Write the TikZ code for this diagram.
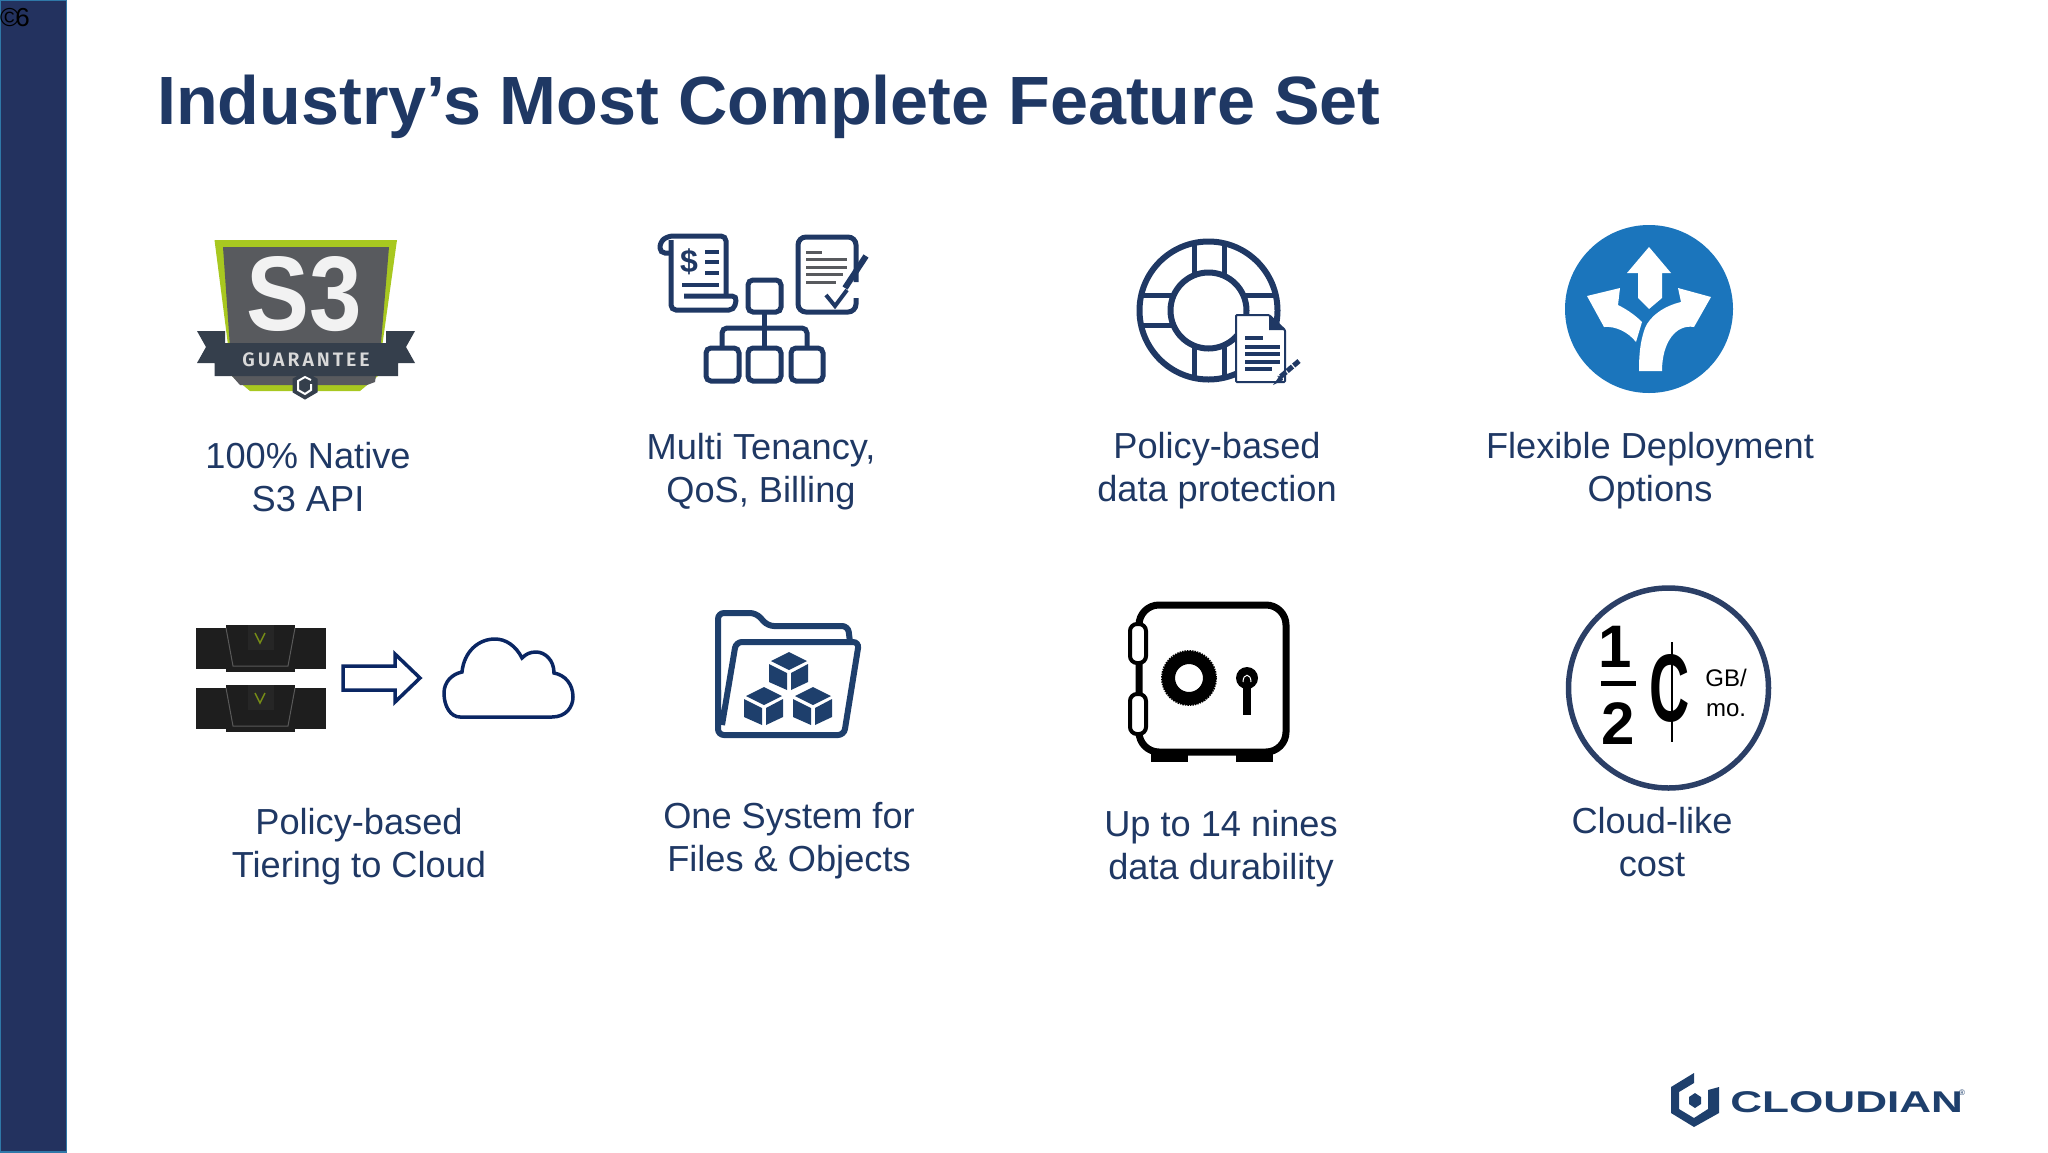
\documentclass[tikz,border=0pt]{standalone}
\usepackage{fontspec}
\setmainfont{Liberation Sans}
\newfontfamily\badgefont[LetterSpace=15]{Fira Sans SemiBold}
\definecolor{navy}{HTML}{1F3864}
\definecolor{barblue}{HTML}{23325F}
\definecolor{baredge}{HTML}{2F78A8}
\definecolor{lime}{HTML}{A8C820}
\definecolor{slate}{HTML}{585A5E}
\definecolor{ribbon}{HTML}{353F4C}
\definecolor{iconblue}{HTML}{1B75BC}
\definecolor{arrownavy}{HTML}{0A2663}
\definecolor{dkgray}{HTML}{1E1E1E}
\definecolor{ringnavy}{HTML}{2B3F66}
\definecolor{logonavy}{HTML}{1E3F6C}
\begin{document}
\begin{tikzpicture}[x=1pt,y=-1pt,
lbl/.style={text=navy, align=center, font=\fontsize{36.2}{43}\selectfont, inner sep=0},
iconline/.style={draw=navy, line width=5, rounded corners=5},
thinline/.style={draw=navy, line width=4},
servertop/.style={fill=dkgray, draw=none}]
\useasboundingbox (0,0) rectangle (2048,1152);
\draw[fill=barblue, draw=baredge, line width=1.5] (0,0) rectangle (66.5,1152);
\node[text=black, inner sep=0, anchor=west, font=\fontsize{26}{26}\selectfont] (pagenum) at (0,18) {©\kern-4pt 6};
\node[text=navy, inner sep=0, anchor=base west, font=\fontsize{68.3}{68}\selectfont\bfseries] (title) at (157,124) {Industry’s Most Complete Feature Set};
% s3 badge
\fill[lime] (214.5,240) -- (397,240) -- (378,376) -- (360,391) -- (250,391) -- (232,376) -- cycle;
\fill[slate] (223,247) -- (389,247) -- (381,343) -- (375,382) -- (367,385) -- (240,385) -- (232,376) -- cycle;
\fill[ribbon] (197,331) -- (225,331) -- (225,343) -- (386,343) -- (386,331) -- (415,331) -- (406,347) -- (415,363) -- (398,363) -- (398,376) -- (214.5,376) -- (214.5,363) -- (197,363) -- (206,347) -- cycle;
\node[text=white!95!black, inner sep=0, xscale=.89, font=\fontsize{106}{106}\selectfont\bfseries] (sthree) at (304,294) {S3};
\node[text=white!85!black, inner sep=0, font=\fontsize{19.5}{19.5}\selectfont\badgefont] (guarantee) at (306,360) {GUARANTEE};
\draw[fill=ribbon, draw=ribbon, line width=1] (305,372) -- (317,379) -- (317,392) -- (305,399) -- (293,392) -- (293,379) -- cycle;
\draw[draw=white, line width=2] (311,380) -- (305,377) -- (298,381) -- (298,390) -- (305,394) -- (311,390) -- (311,384);
% billing
\draw[iconline] (726,296) -- (726,236) -- (668,236) -- (660,242) -- (660,253) -- (671,253);
\draw[iconline] (671,240) -- (671,310) -- (728,310);
\draw[iconline] (684,296) -- (737,296) -- (734,310) -- (728,310);
\node[text=navy, inner sep=0, font=\fontsize{32}{32}\selectfont\bfseries] (dollar) at (689,262) {\$};
\draw[thinline] (705,252) -- (719,252);
\draw[thinline] (705,262) -- (719,262);
\draw[thinline] (705,273) -- (719,273);
\draw[thinline] (682,285) -- (719,285);
\draw[iconline, rounded corners=8] (856,282) -- (856,237) -- (798,237) -- (798,312) -- (856,312) -- (856,298);
\draw[draw=slate, line width=3] (806,252) -- (822,252);
\draw[draw=slate, line width=3] (806,259) -- (847,259);
\draw[draw=slate, line width=3] (806,267) -- (847,267);
\draw[draw=slate, line width=3] (806,274) -- (843,274);
\draw[draw=slate, line width=3] (806,282) -- (836,282);
\draw[draw=navy, line width=6] (866,256) -- (845,288);
\draw[draw=navy, line width=4] (826,295) -- (835,306) -- (847,290);
\draw[iconline] (748,280) rectangle (781,312);
\draw[iconline] (706,348) rectangle (739,381);
\draw[iconline] (748,348) rectangle (781,381);
\draw[iconline] (791,348) rectangle (823,381);
\draw[iconline] (764.5,312) -- (764.5,348);
\draw[iconline] (722,348) -- (722,328) -- (807,328) -- (807,348);
% lifebuoy
\draw[draw=navy, line width=6] (1208.5,310.5) circle (69);
\draw[draw=navy, line width=6] (1208.5,310.5) circle (38);
\draw[thinline, line width=5] (1194,243) -- (1194,275);
\draw[thinline, line width=5] (1224,243) -- (1224,275);
\draw[thinline, line width=5] (1194,346) -- (1194,378);
\draw[thinline, line width=5] (1224,346) -- (1224,378);
\draw[thinline, line width=5] (1141,295) -- (1172,295);
\draw[thinline, line width=5] (1141,325) -- (1172,325);
\draw[thinline, line width=5] (1245,295) -- (1276,295);
\draw[fill=white, draw=navy, line width=2, rounded corners=1] (1236,315) -- (1269,315) -- (1285,330) -- (1285,382) -- (1236,382) -- cycle;
\fill[navy] (1269,315) -- (1285,330) -- (1269,330) -- cycle;
\draw[thinline] (1245,338) -- (1263,338);
\draw[thinline] (1245,347) -- (1280,347);
\draw[thinline] (1245,354) -- (1280,354);
\draw[thinline] (1245,362) -- (1280,362);
\draw[thinline] (1245,369) -- (1272,369);
\draw[draw=navy, line width=5, dash pattern=on 7 off 1.5] (1299,361) -- (1279,378);
\fill[navy] (1281,374) -- (1283,380) -- (1273,385) -- cycle;
% directions
\fill[iconblue] (1649,309) circle (84);
\fill[white] (1649,247) -- (1671,273) -- (1662,273) -- (1662,298) -- (1649,309) -- (1638,298) -- (1638,273) -- (1627,273) -- cycle;
\fill[white] (1587,296) -- (1620,288) -- (1618,305) .. controls (1628,310) and (1636,316) .. (1642,322) -- (1636,342) .. controls (1628,332) and (1616,326) .. (1604,327) -- cycle;
\fill[white] (1711,297) -- (1678,288) -- (1681,302) .. controls (1664,306) and (1650,316) .. (1645,328) .. controls (1640,342) and (1639,355) .. (1639,371) -- (1662,371) .. controls (1662,342) and (1676,324) .. (1694,327) -- cycle;
% tiering
\fill[servertop] (196,628) rectangle (326,669);
\fill[servertop] (226,625) rectangle (295,672);
\draw[draw=gray!70!black, line width=1] (226,628) -- (233,666) -- (288,666) -- (295,628);
\fill[black!85] (248,625) rectangle (274,650);
\draw[draw=lime!70!black, line width=1.5] (255,633) -- (260,643) -- (265,633);
\fill[servertop] (196,688) rectangle (326,729);
\fill[servertop] (226,685) rectangle (295,732);
\draw[draw=gray!70!black, line width=1] (226,688) -- (233,726) -- (288,726) -- (295,688);
\fill[black!85] (248,685) rectangle (274,710);
\draw[draw=lime!70!black, line width=1.5] (255,693) -- (260,703) -- (265,693);
\draw[draw=arrownavy, line width=3.5, fill=white] (343,666) -- (395,666) -- (395,654) -- (420,678) -- (395,702) -- (395,690) -- (343,690) -- cycle;
\draw[draw=arrownavy, line width=3.5, fill=white] (460,717) -- (552,717) .. controls (566,717) and (573,707) .. (573,697) .. controls (573,684) and (565,675) .. (554,673) .. controls (554,660) and (545,652) .. (536,652) .. controls (530,652) and (526,654) .. (522,658) .. controls (516,646) and (506,639) .. (495,639) .. controls (478,639) and (464,652) .. (462,672) .. controls (452,674) and (444,682) .. (444,693) .. controls (444,707) and (451,717) .. (460,717) -- cycle;
% folder
\draw[iconline, line width=6, draw=logonavy, rounded corners=6] (718,700) -- (718,613) -- (756,613) -- (768,626) -- (848,626) -- (850,642);
\draw[iconline, line width=6, draw=logonavy, rounded corners=6] (718,690) -- (718,735) -- (844,735) -- (859,642) -- (736,642) -- (722,725);
\fill[logonavy] (789,652) -- (807,661) -- (789,670) -- (771,661) -- cycle;
\fill[logonavy] (769,664) -- (787,673) -- (787,690) -- (769,682) -- cycle;
\fill[logonavy] (791,673) -- (808,664) -- (808,682) -- (791,690) -- cycle;
\fill[logonavy] (764,687) -- (782,696) -- (764,705) -- (746,696) -- cycle;
\fill[logonavy] (744,699) -- (762,708) -- (762,725) -- (744,717) -- cycle;
\fill[logonavy] (766,708) -- (783,699) -- (783,717) -- (766,725) -- cycle;
\fill[logonavy] (813,687) -- (831,696) -- (813,705) -- (795,696) -- cycle;
\fill[logonavy] (793,699) -- (811,708) -- (811,725) -- (793,717) -- cycle;
\fill[logonavy] (815,708) -- (832,699) -- (832,717) -- (815,725) -- cycle;
% safe
\draw[draw=black, line width=7, rounded corners=20] (1139,605) rectangle (1286,752);
\fill[black] (1151,752) rectangle (1188,762);
\fill[black] (1236,752) rectangle (1273,762);
\draw[fill=white, draw=black, line width=4, rounded corners=7] (1130,624) rectangle (1146,663);
\draw[fill=white, draw=black, line width=4, rounded corners=7] (1130,694) rectangle (1146,734);
\draw[draw=black, line width=13] (1189,678) circle (20.5);
\draw[draw=black, line width=2, dash pattern=on 1.5 off 1] (1189,678) circle (27);
\fill[black] (1247,678) circle (11);
\fill[black] (1243,678) rectangle (1251,715);
\draw[draw=white, line width=1] (1243,682) .. controls (1243,673) and (1251,673) .. (1251,682);
% cost
\draw[draw=ringnavy, line width=5.5] (1668.5,688) circle (100);
\node[text=black, inner sep=0, font=\fontsize{60}{60}\selectfont\bfseries] (numer) at (1615,647) {1};
\draw[draw=black, line width=5] (1601,683) -- (1636,683);
\node[text=black, inner sep=0, font=\fontsize{60}{60}\selectfont\bfseries] (denom) at (1618,724) {2};
\node[text=black, inner sep=0, xscale=.58, font=\fontsize{96}{96}\selectfont\bfseries] (centc) at (1670,688) {C};
\draw[draw=black, line width=1.5] (1672,642) -- (1672,742);
\node[text=black, inner sep=0, font=\fontsize{24}{24}\selectfont] (gb) at (1726,678) {GB/};
\node[text=black, inner sep=0, font=\fontsize{24}{24}\selectfont] (mo) at (1726,710) {mo.};
% captions
\node[lbl] (lblapi) at (308,477) {100\% Native\\S3 API};
\node[lbl] (lblbill) at (761,471.5) {Multi Tenancy,\\QoS, Billing};
\node[lbl] (lblprot) at (1217,470.5) {Policy-based\\data protection};
\node[lbl] (lbldeploy) at (1650,470.5) {Flexible Deployment\\Options};
\node[lbl] (lbltier) at (359,846.5) {Policy-based\\Tiering to Cloud};
\node[lbl] (lblfiles) at (789,840.5) {One System for\\Files \& Objects};
\node[lbl] (lblnines) at (1221,848.5) {Up to 14 nines\\data durability};
\node[lbl] (lblcost) at (1652,842) {Cloud-like\\cost};
% logo
\fill[logonavy] (1694,1073) -- (1694,1083) -- (1679,1092) -- (1679,1109) -- (1694,1118) -- (1708,1109) -- (1708,1090) -- (1719,1087) -- (1719,1113) -- (1694,1127) -- (1671,1113) -- (1671,1087) -- cycle;
\fill[logonavy] (1695,1093) -- (1701,1097) -- (1701,1104) -- (1695,1108) -- (1689,1104) -- (1689,1097) -- cycle;
\node[text=logonavy, inner sep=0, anchor=base west, xscale=1.47, font=\fontsize{30}{30}\selectfont\bfseries] (brand) at (1730,1112) {CLOUDIAN};
\node[text=logonavy, inner sep=0, font=\fontsize{8}{8}\selectfont] (regd) at (1962,1093) {®};
\end{tikzpicture}
\end{document}
